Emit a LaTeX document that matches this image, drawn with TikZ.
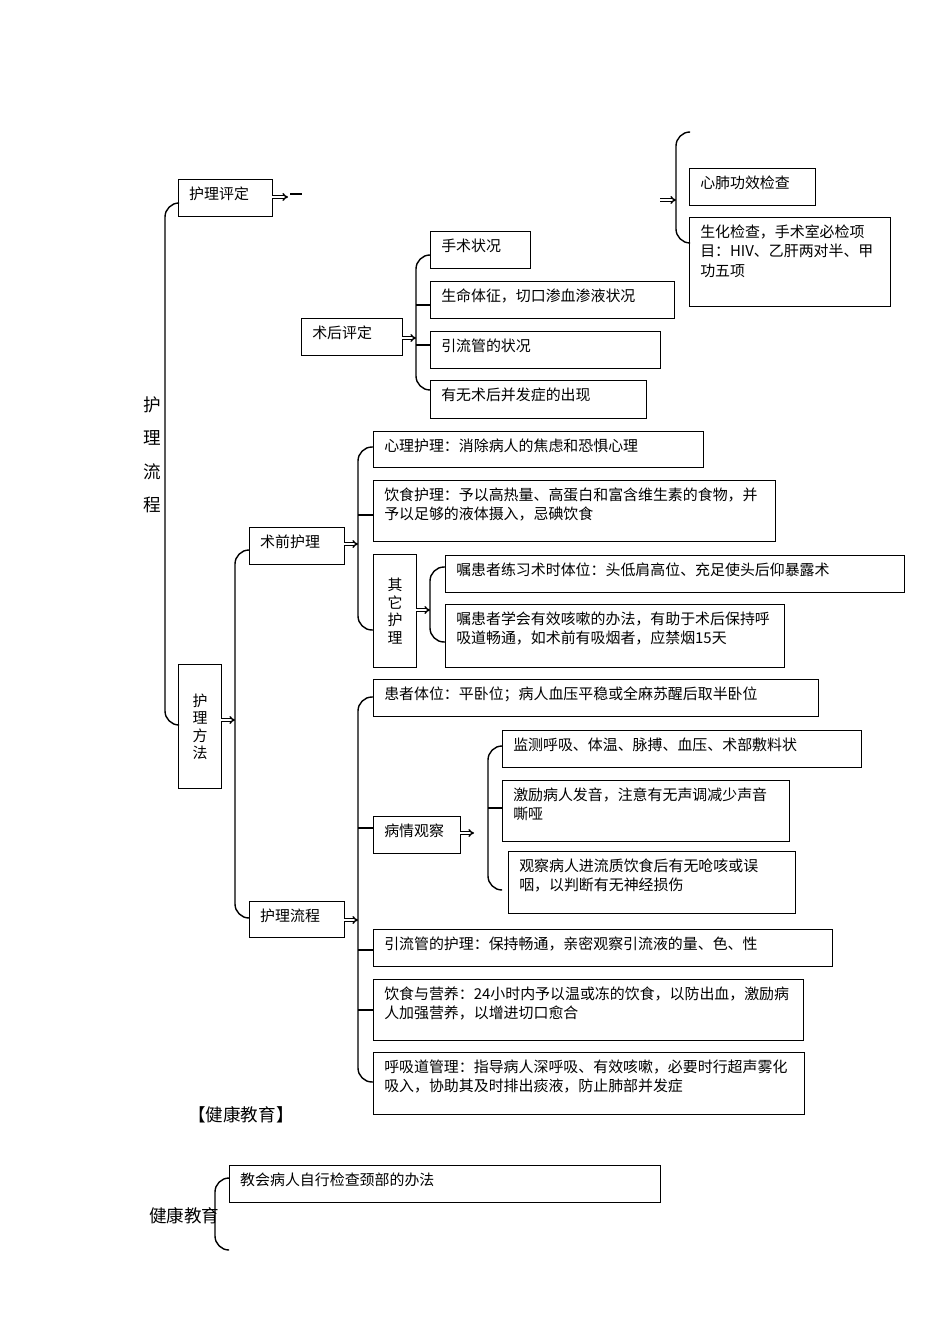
\documentclass[tikz,border=0pt]{standalone}
\usepackage{fontspec}
\setmainfont{Liberation Serif}
\newfontfamily\cjk{Noto Sans CJK SC}
\XeTeXlinebreaklocale "zh"
\XeTeXlinebreakskip = 0pt plus 1pt
\usetikzlibrary{arrows.meta,positioning}
\tikzset{
  box/.style={draw,thick,anchor=north west,inner xsep=6pt,inner ysep=4pt,
    font=\cjk\fontsize{8.5}{11}\selectfont},
  vbox/.style={draw,thick,anchor=north west,inner sep=0pt,align=center,
    font=\cjk\fontsize{8.5}{10}\selectfont},
  brace/.style={thick,rounded corners=8pt},
  go/.style={double,thick,-{Implies}}
}
% box content: width, height (px), text
\newcommand{\bt}[3]{\parbox[t][\dimexpr#2\dimexpr0.02cm\relax-8pt\relax][t]{\dimexpr#1\dimexpr0.02cm\relax-12pt\relax}{\raggedright#3}}
\begin{document}
\begin{tikzpicture}[x=0.02cm,y=-0.02cm]
\useasboundingbox (0,0) rectangle (950,1344);
% top right group
\node[box] (xf) at (689,168) {\bt{126}{37}{心肺功效检查}};
\node[box] (sh) at (689,217) {\bt{201}{89}{生化检查，手术室必检项目：HIV、乙肝两对半、甲功五项}};
\draw[brace] (690,132) -- (676,132) -- (676,243) -- (690,243);
\draw[go] (660,200) -- (676,200);
% 护理评定
\node[box] (pd) at (178,179) {\bt{94}{37}{护理评定}};
\draw[go] (272,197) -- ++(16,0);
\draw[thick] (290,194) -- (302,194);
% 术后评定
\node[box] (sd) at (301,318) {\bt{101}{37}{术后评定}};
\node[box] (s1) at (430,231) {\bt{100}{37}{手术状况}};
\node[box] (s2) at (430,281) {\bt{244}{37}{生命体征，切口渗血渗液状况}};
\node[box] (s3) at (430,331) {\bt{230}{37}{引流管的状况}};
\node[box] (s4) at (430,380) {\bt{216}{38}{有无术后并发症的出现}};
\draw[go] (402,338) -- ++(14,0);
\draw[brace] (430,255) -- (416,255) -- (416,390) -- (430,390);
\draw[thick] (416,305) -- (430,305) (416,345) -- (430,345);
% 护理流程 main brace
\node[font=\cjk\fontsize{10}{19}\selectfont,align=center] (lc) at (152,455) {护\\理\\流\\程};
\node[vbox,minimum width=0.86cm,minimum height=2.48cm] (ff) at (178,664) {护\\理\\方\\法};
\draw[brace] (178,203) -- (165,203) -- (165,725) -- (178,725);
\draw[go] (221,720) -- ++(14,0);
% 术前护理
\node[box] (sq) at (249,527) {\bt{95}{37}{术前护理}};
\node[box] (q1) at (373,431) {\bt{330}{36}{心理护理：消除病人的焦虑和恐惧心理}};
\node[box] (q2) at (373,480) {\bt{402}{61}{饮食护理：予以高热量、高蛋白和富含维生素的食物，并予以足够的液体摄入，忌碘饮食}};
\node[vbox,minimum width=0.86cm,minimum height=2.26cm] (qt) at (373,554) {其\\它\\护\\理};
\node[box] (t1) at (445,555) {\bt{459}{37}{嘱患者练习术时体位：头低肩高位、充足使头后仰暴露术}};
\node[box] (t2) at (445,604) {\bt{339}{63}{嘱患者学会有效咳嗽的办法，有助于术后保持呼吸道畅通，如术前有吸烟者，应禁烟15天}};
\draw[go] (344,544) -- ++(14,0);
\draw[brace] (373,447) -- (358,447) -- (358,630) -- (373,630);
\draw[thick] (358,515) -- (373,515);
\draw[go] (416,610) -- (430,610);
\draw[brace] (445,567) -- (430,567) -- (430,642) -- (445,642);
% 护理流程
\node[box] (lq) at (249,901) {\bt{95}{36}{护理流程}};
\draw[brace] (249,550) -- (235,550) -- (235,918) -- (249,918);
\draw[go] (344,920) -- ++(14,0);
\node[box] (l1) at (373,679) {\bt{445}{37}{患者体位：平卧位；病人血压平稳或全麻苏醒后取半卧位}};
\node[box] (bq) at (373,816) {\bt{87}{37}{病情观察}};
\node[box] (b1) at (502,730) {\bt{359}{37}{监测呼吸、体温、脉搏、血压、术部敷料状}};
\node[box] (b2) at (502,780) {\bt{287}{61}{激励病人发音，注意有无声调减少声音嘶哑}};
\node[box] (b3) at (508,851) {\bt{287}{62}{观察病人进流质饮食后有无呛咳或误咽，以判断有无神经损伤}};
\node[box] (l2) at (373,929) {\bt{459}{37}{引流管的护理：保持畅通，亲密观察引流液的量、色、性}};
\node[box] (l3) at (373,979) {\bt{430}{61}{饮食与营养：24小时内予以温或冻的饮食，以防出血，激励病人加强营养，以增进切口愈合}};
\node[box] (l4) at (373,1052) {\bt{431}{62}{呼吸道管理：指导病人深呼吸、有效咳嗽，必要时行超声雾化吸入，协助其及时排出痰液，防止肺部并发症}};
\draw[brace] (373,697) -- (358,697) -- (358,1082) -- (373,1082);
\draw[thick] (358,828) -- (373,828) (358,950) -- (373,950) (358,1010) -- (373,1010);
\draw[go] (460,833) -- ++(14,0);
\draw[brace] (502,746) -- (488,746) -- (488,890) -- (502,890);
\draw[thick] (488,808) -- (502,808);
% 健康教育
\node[anchor=west,font=\cjk\fontsize{10}{12}\selectfont] (jt) at (182,1115) {【健康教育】};
\node[anchor=west,font=\cjk\fontsize{10}{12}\selectfont] (jk) at (143,1216) {健康教育};
\node[box] (j1) at (229,1165) {\bt{431}{37}{教会病人自行检查颈部的办法}};
\draw[brace] (229,1178) -- (215,1178) -- (215,1250) -- (229,1250);
\end{tikzpicture}
\end{document}
